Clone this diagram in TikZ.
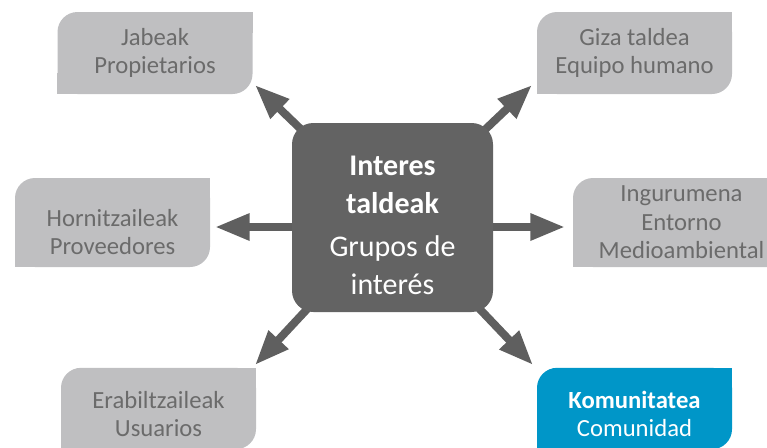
\documentclass[tikz,border=0pt]{standalone}
\usepackage{fontspec}
\setmainfont{Carlito}
\usetikzlibrary{arrows.meta, backgrounds}
\definecolor{boxgray}{HTML}{BFBFC1}
\definecolor{textgray}{HTML}{6B6B6B}
\definecolor{hubgray}{HTML}{636363}
\definecolor{arrowgray}{HTML}{5F5F5F}
\definecolor{comblue}{HTML}{0096C8}
\tikzset{
    hub/.style={rectangle, rounded corners=16pt, minimum width=150.75pt, minimum height=141.75pt, inner sep=0pt, fill=hubgray, text=white, align=center, font=\fontsize{22.5}{28.5}\selectfont},
    group/.style={rectangle, rounded corners=15pt, minimum width=146.25pt, inner sep=0pt, fill=boxgray, text=textgray, align=center, font=\fontsize{18.5}{21.5}\selectfont},
    focus/.style={group, fill=comblue, text=white},
    arrow/.style={line width=6pt, draw=arrowgray, -{Triangle[length=26pt, width=19pt]}}
}

\begin{document}
\begin{tikzpicture}[x=0.75pt, y=-0.75pt]
    \useasboundingbox (0,0) rectangle (767,447);

    \node (hub) [hub] at (392.5,217.5) {\rule{0pt}{26pt}\textbf{Interes}\\\textbf{taldeak}\\[4pt]Grupos de\\interés};

    \node (jabeak) [group, minimum height=61.5pt] at (155,53) {Jabeak\\Propietarios};
    \node (giza) [group, minimum height=61.5pt] at (634.5,53) {Giza taldea\\Equipo humano};
    \node (hornitz) [group, minimum height=66.75pt] at (112.5,222.5) {\rule{0pt}{27pt}Hornitzaileak\\Proveedores};
    \node (ingurumena) [group, minimum width=162.75pt, minimum height=66.75pt] at (681.5,222.5) {Ingurumena\\Entorno\\Medioambiental};
    \node (erabil) [group, minimum height=61pt] at (158.5,408.5) {\rule{0pt}{21pt}Erabiltzaileak\\Usuarios};
    \node (komunitatea) [focus, minimum height=61pt] at (634.5,408.5) {\rule{0pt}{21pt}\textbf{Komunitatea}\\Comunidad};

    % arrow tips
    \coordinate (tojabeak) at (255,85);
    \coordinate (togiza) at (532,85);
    \coordinate (tohornitz) at (215,227);
    \coordinate (toingurumena) at (565,227);
    \coordinate (toerabil) at (255,365);
    \coordinate (tokomunitatea) at (533,365);

    \begin{scope}[on background layer]
        % square corners
        \foreach \n/\c in {jabeak/boxgray, giza/boxgray, hornitz/boxgray, ingurumena/boxgray, erabil/boxgray, komunitatea/comblue}{
            \fill[\c] (\n.north east) rectangle ([xshift=-16pt, yshift=-16pt]\n.north east);
            \fill[\c] (\n.south west) rectangle ([xshift=16pt, yshift=16pt]\n.south west);
        }
        \foreach \t in {tojabeak, togiza, toerabil, tokomunitatea}
            \draw [arrow] (hub.center) -- (\t);
        \draw [arrow] (hub.center |- tohornitz) -- (tohornitz);
        \draw [arrow] (hub.center |- toingurumena) -- (toingurumena);
    \end{scope}
\end{tikzpicture}
\end{document}
